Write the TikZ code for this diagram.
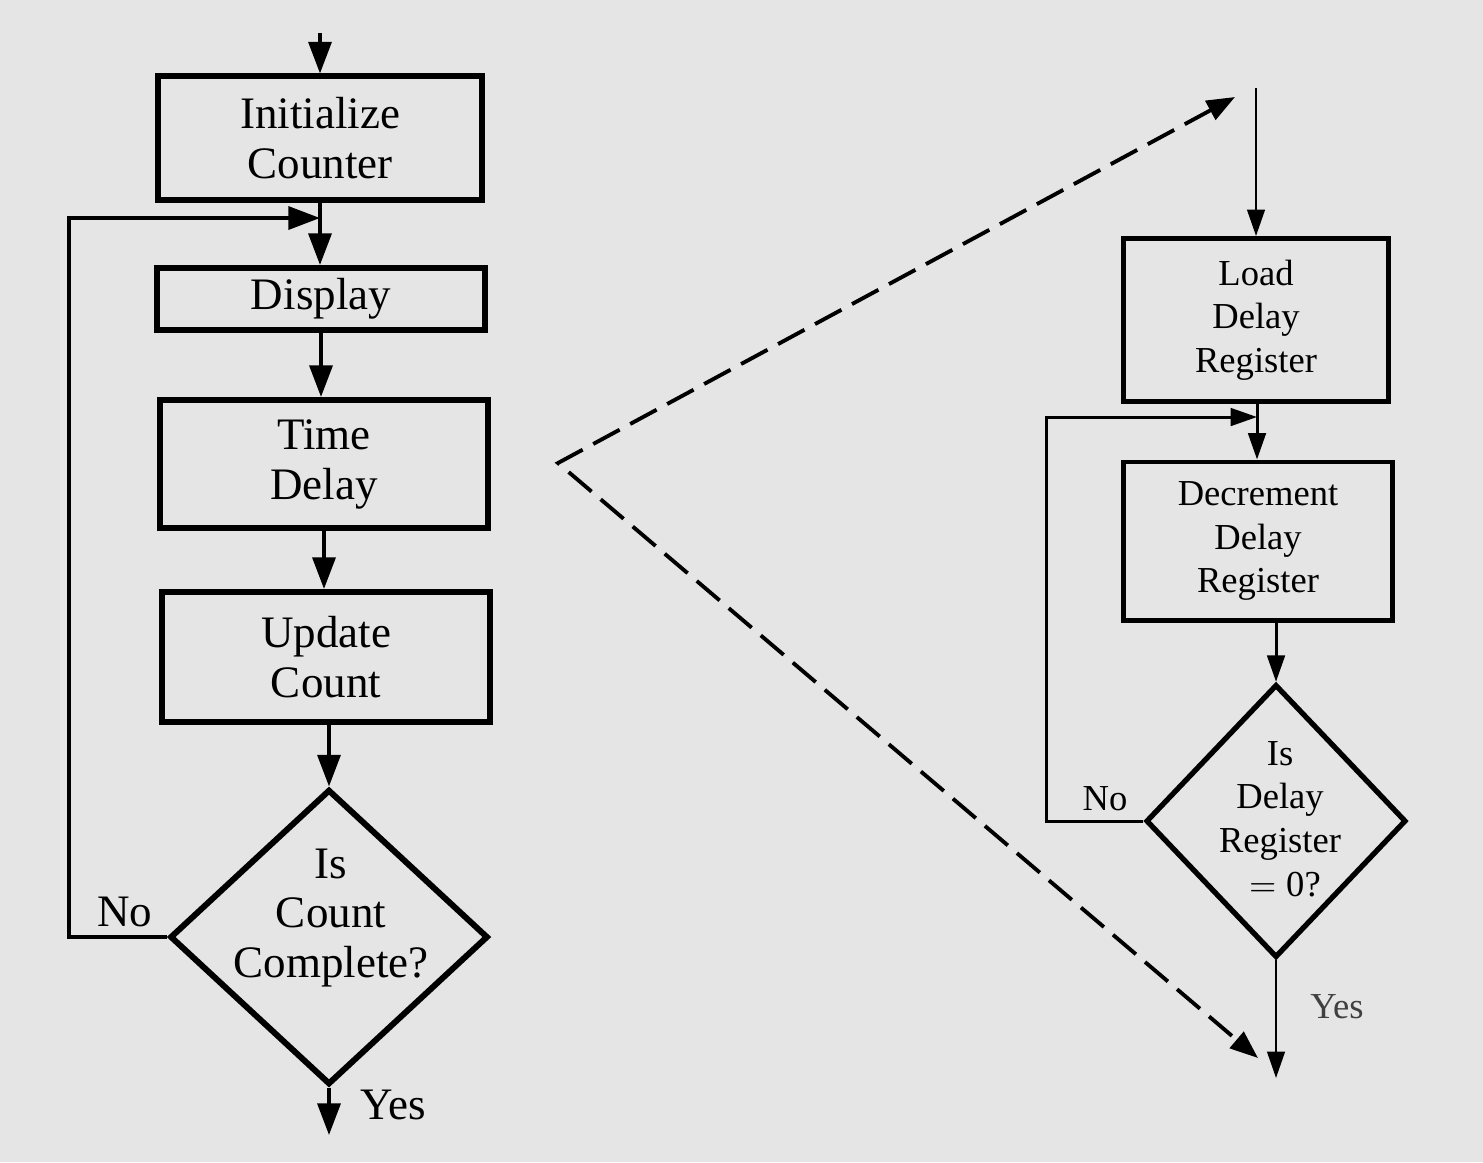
\documentclass[tikz,border=0pt]{standalone}
\usepackage{fontspec}
\setmainfont{Liberation Serif}
\usetikzlibrary{arrows.meta,shapes.geometric,positioning}

\begin{document}
\begin{tikzpicture}[x=0.01cm, y=-0.01cm,
    box/.style={draw, rectangle, line width=1.7pt, inner sep=0pt},
    rbox/.style={draw, rectangle, line width=1.4pt, inner sep=0pt},
    decision/.style={draw, diamond, inner sep=0pt},
    ltext/.style={font=\fontsize{12.8}{14.2}\selectfont, align=center},
    rtext/.style={font=\fontsize{10.4}{12.4}\selectfont, align=center},
    conn/.style={line width=1.1pt, -{Triangle[length=9pt,width=6.5pt]}},
    rconn/.style={line width=0.85pt, -{Triangle[length=7.5pt,width=5pt]}},
    dashline/.style={line width=1.1pt, dash pattern=on 0.3cm off 0.12cm},
    ]
    % 背景
    \fill[black!10] (0,0) rectangle (1483,1162);
    \useasboundingbox (0,0) rectangle (1483,1162);

    % 左侧流程
    \node[box, ltext, minimum width=3.24cm, minimum height=1.23cm] (init) at (320,138) {Initialize\\Counter};
    \node[box, ltext, minimum width=3.27cm, minimum height=0.62cm] (disp) at (321,299) {Display};
    \node[box, ltext, minimum width=3.28cm, minimum height=1.28cm] (tdel) at (324,464) {Time\\Delay};
    \node[box, ltext, minimum width=3.28cm, minimum height=1.30cm] (upd) at (326,657) {Update\\Count};
    \node[decision, line width=1.7pt, minimum width=3.18cm, minimum height=2.95cm] (chk) at (329,937) {};
    \node[ltext] (chktxt) at (331,918) {Is\\Count\\Complete?};

    \coordinate (ltop) at (320,33);
    \coordinate (ljoin) at (320,218);
    \coordinate (lyes) at (329,1135);

    \draw[conn] (ltop) -- (init.north);
    \draw[line width=1.1pt] (init.south) -- (ljoin);
    \draw[conn] (ljoin) -- (ljoin |- disp.north);
    \draw[conn] (disp.south) -- (disp.south |- tdel.north);
    \draw[conn] (tdel.south) -- (tdel.south |- upd.north);
    \draw[conn] (upd.south -| chk.north) -- (chk.north);
    \draw[conn] (chk.south) -- (lyes);
    \draw[conn] (chk.west) -- ++(-98,0) |- (ljoin);

    \node[ltext] (lno) at (125,912) {No};
    \node[ltext] (lyeslbl) at (393,1105) {Yes};

    % 右侧流程
    \node[rbox, rtext, minimum width=2.65cm, minimum height=1.63cm] (load) at (1256,320) {Load\\Delay\\Register};
    \node[rbox, rtext, minimum width=2.68cm, minimum height=1.58cm] (dec) at (1258,541) {Decrement\\Delay\\Register};
    \node[decision, line width=1.5pt, minimum width=2.60cm, minimum height=2.73cm] (zero) at (1276,821) {};
    \node[rtext] (zerotxt) at (1280,819) {Is\\Delay\\Register\\${}={}$0?};

    \coordinate (rtop) at (1256,88);
    \coordinate (rjoin) at (1257,417);
    \coordinate (ryes) at (1276,1078);

    \draw[rconn, line width=0.7pt] (rtop) -- (load.north);
    \draw[line width=0.85pt] (load.south -| rjoin) -- (rjoin);
    \draw[rconn] (rjoin) -- (rjoin |- dec.north);
    \draw[rconn] (dec.south -| zero.north) -- (zero.north);
    \draw[rconn, line width=0.7pt] (zero.south) -- (ryes);
    \draw[rconn] (zero.west) -- ++(-97,0) |- (rjoin);

    \node[rtext] (rno) at (1105,799) {No};
    \node[rtext, text=black!75] (ryeslbl) at (1337,1007) {Yes};

    % 虚线放大标记
    \coordinate (apex) at (558,463);
    \coordinate (dtop) at (1235,97);
    \coordinate (dbot) at (1258,1058);
    \draw[dashline, {Triangle[length=8pt,width=6pt]}-{Triangle[length=8pt,width=6pt]}] (dtop) -- (apex) -- (dbot);
\end{tikzpicture}
\end{document}
